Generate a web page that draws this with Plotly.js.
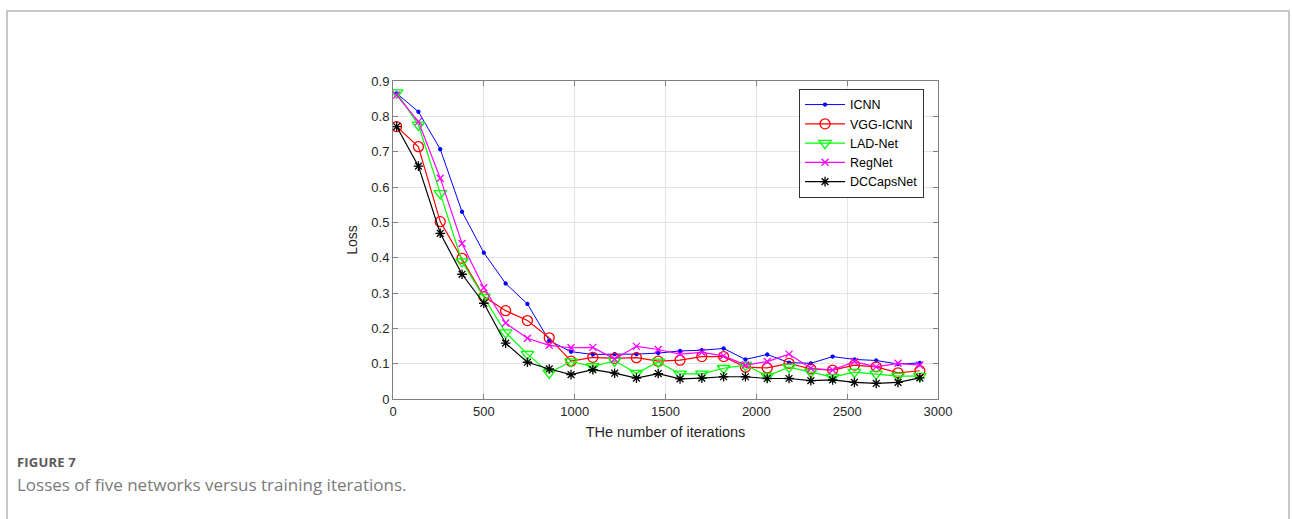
<!DOCTYPE html>
<html>
<head>
<meta charset="utf-8">
<script src="https://cdn.plot.ly/plotly-3.0.1.min.js"></script>
<style>
  html, body { margin: 0; padding: 0; background: #fff; }
  #wrap { position: relative; width: 1292px; height: 519px; overflow: hidden; }
  #card { position: absolute; left: 6px; top: 10px; width: 1284px; height: 540px;
          border-left: 2px solid #c8c8c8; border-top: 2px solid #c8c8c8; border-right: 2px solid #c8c8c8; box-sizing: border-box; }
  #chart { position: absolute; left: 0; top: 0; width: 1292px; height: 519px; }
  #fig { position: absolute; left: 17px; top: 453px; font-family: "Open Sans", Lato, sans-serif;
         font-weight: 700; font-size: 13px; color: #5a5a5a; letter-spacing: 0.2px; }
  #cap { position: absolute; left: 17px; top: 473px; font-family: "Open Sans", Lato, sans-serif;
         font-size: 17px; color: #7a7a7a; }
</style>
</head>
<body>
<div id="wrap">
  <div id="card"></div>
  <div id="chart"></div>
  <div id="fig">FIGURE 7</div>
  <div id="cap">Losses of five networks versus training iterations.</div>
</div>
<script>
const iterations = [20,140,260,380,500,620,740,860,980,1100,1220,1340,1460,1580,1700,1820,1940,2060,2180,2300,2420,2540,2660,2780,2900];
const seriesNames = ["ICNN","VGG-ICNN","LAD-Net","RegNet","DCCapsNet"];
const icnn      = [0.865,0.813,0.707,0.530,0.414,0.327,0.269,0.165,0.134,0.126,0.127,0.127,0.130,0.136,0.138,0.143,0.112,0.126,0.103,0.101,0.120,0.112,0.109,0.099,0.102];
const vggIcnn   = [0.771,0.714,0.502,0.398,0.290,0.250,0.222,0.173,0.107,0.118,0.115,0.117,0.107,0.110,0.120,0.120,0.090,0.088,0.101,0.085,0.082,0.096,0.091,0.074,0.080];
const ladNet    = [0.867,0.776,0.582,0.389,0.288,0.188,0.127,0.074,0.106,0.092,0.108,0.073,0.105,0.071,0.071,0.087,0.096,0.065,0.090,0.076,0.062,0.076,0.071,0.065,0.065];
const regNet    = [0.860,0.785,0.625,0.440,0.315,0.215,0.172,0.152,0.145,0.146,0.113,0.149,0.140,0.127,0.132,0.122,0.096,0.106,0.127,0.087,0.082,0.106,0.091,0.101,0.096];
const dccapsNet = [0.771,0.659,0.469,0.353,0.271,0.158,0.104,0.085,0.069,0.083,0.073,0.059,0.072,0.057,0.059,0.063,0.063,0.058,0.058,0.052,0.054,0.047,0.044,0.047,0.060];
const xTicks = [0,500,1000,1500,2000,2500,3000];
const yTicks = [0,0.1,0.2,0.3,0.4,0.5,0.6,0.7,0.8,0.9];

const styles = [
  {color:"#0000ff", symbol:"circle", size:3, lw:1},
  {color:"#ff0000", symbol:"circle-open", size:10, lw:1.2},
  {color:"#00ff00", symbol:"triangle-down-open", size:11, lw:1.2},
  {color:"#ff00ff", symbol:"x-thin-open", size:7, lw:1.2},
  {color:"#000000", symbol:"asterisk-open", size:8, lw:1.2}
];
const values = [icnn, vggIcnn, ladNet, regNet, dccapsNet];
const traces = values.map((v,i) => ({
  x: iterations, y: v, name: seriesNames[i], type: "scatter", mode: "lines+markers",
  line: {color: styles[i].color, width: styles[i].lw},
  marker: {color: styles[i].color, symbol: styles[i].symbol, size: styles[i].size,
           line: {color: styles[i].color, width: 1.3}}
}));

const axisCommon = {
  showline: true, mirror: "ticks", linecolor: "#7f7f7f", linewidth: 1,
  ticks: "inside", ticklen: 5, tickcolor: "#7f7f7f",
  showgrid: true, gridcolor: "#e4e4e4", gridwidth: 1, zeroline: false,
  tickfont: {family: "Liberation Sans, Arial, sans-serif", size: 13, color: "#262626"}
};

const layout = {
  width: 1292, height: 519,
  paper_bgcolor: "rgba(0,0,0,0)", plot_bgcolor: "#ffffff",
  margin: {l: 393, r: 354, t: 81, b: 120},
  showlegend: true,
  legend: {x: 0.745, y: 0.975, xanchor: "left", yanchor: "top",
           bgcolor: "#ffffff", bordercolor: "#333333", borderwidth: 1,
           font: {family: "Liberation Sans, Arial, sans-serif", size: 12.5, color: "#000"},
           tracegroupgap: 0, itemwidth: 40},
  xaxis: Object.assign({}, axisCommon, {
    range: [0, 3000], tickvals: xTicks, ticktext: xTicks.map(String),
    title: {text: "THe number of iterations", standoff: 9,
            font: {family: "Liberation Sans, Arial, sans-serif", size: 14.5, color: "#262626"}}
  }),
  yaxis: Object.assign({}, axisCommon, {
    range: [0, 0.9], tickvals: yTicks, ticktext: yTicks.map(v => v === 0 ? "0" : v.toFixed(1)),
    title: {text: "Loss", standoff: 10,
            font: {family: "Liberation Sans, Arial, sans-serif", size: 14, color: "#262626"}}
  })
};

Plotly.newPlot("chart", traces, layout, {displayModeBar: false, staticPlot: true});
</script>
</body>
</html>
